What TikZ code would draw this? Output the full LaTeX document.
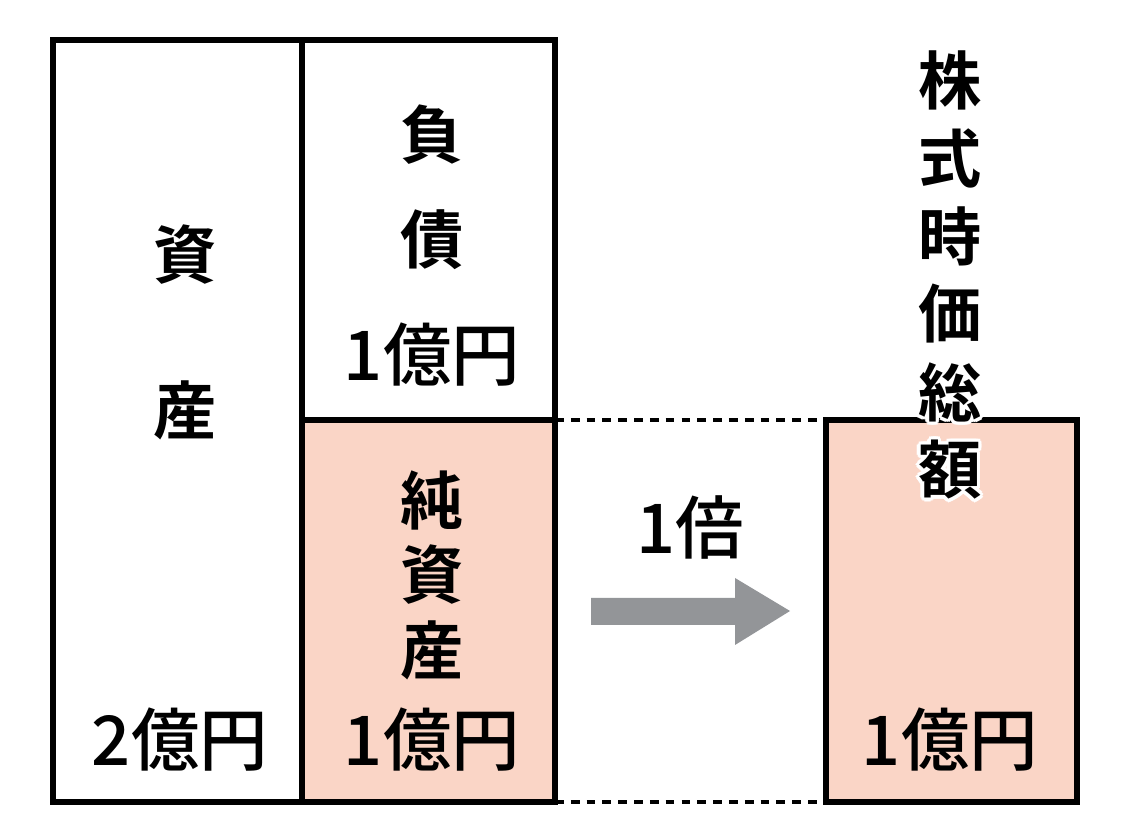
\documentclass[tikz,border=0pt]{standalone}
\usepackage{fontspec}
\usetikzlibrary{calc}
\newfontfamily\cjk[BoldFont={Noto Sans CJK JP Bold}]{Noto Sans CJK JP Medium}
\definecolor{pinkfill}{HTML}{FAD5C6}
\definecolor{arrgray}{HTML}{939598}
\begin{document}
\begin{tikzpicture}[x=0.02cm,y=-0.02cm,
  box/.style={line width=3.4pt},
  lbl/.style={font=\cjk\bfseries\fontsize{36}{40}\selectfont, inner sep=0pt},
  num/.style={font=\cjk\fontsize{39}{44}\selectfont, inner sep=0pt}]
\useasboundingbox (0,0) rectangle (1137,827);
\fill[pinkfill] (302,420) rectangle (555,802);
\fill[pinkfill] (826,420) rectangle (1077,802);
\draw[box] (53,40) rectangle (555,802);
\draw[box] (302,40) -- (302,802);
\draw[box] (302,420) -- (555,420);
\draw[box] (826,420) rectangle (1077,802);
\coordinate (d1) at (555,420); \coordinate (d2) at (826,420);
\coordinate (d3) at (555,802); \coordinate (d4) at (826,802);
\draw[line width=1.8pt,dash pattern=on 5pt off 4pt] (d1) -- (d2) (d3) -- (d4);
\fill[arrgray] (591,598) -- (735,598) -- (735,578) -- (790,611) -- (735,645) -- (735,625) -- (591,625) -- cycle;
\node[lbl] (a1) at (185,255) {資};
\node[lbl] (a2) at (185,410) {産};
\node[num] (a3) at (180,740) {2億円};
\node[lbl] (b1) at (432,135) {負};
\node[lbl] (b2) at (432,240) {債};
\node[num] (b3) at (432,355) {1億円};
\node[lbl] (c1) at (432,500) {純};
\node[lbl] (c2) at (432,575) {資};
\node[lbl] (c3) at (432,650) {産};
\node[num] (c4) at (432,740) {1億円};
\node[num] (m) at (690,527) {1倍};
\foreach \ch [count=\i] in {株,式,時,価,総,額}{
  \foreach \a in {0,30,...,330}
    \node[lbl,white] at ($(950,{80+(\i-1)*78})+(\a:3.5)$) {\ch};
}
\foreach \ch [count=\i] in {株,式,時,価,総,額}
  \node[lbl] (v\i) at (950,{80+(\i-1)*78}) {\ch};
\node[num] (r) at (950,740) {1億円};
\end{tikzpicture}
\end{document}
